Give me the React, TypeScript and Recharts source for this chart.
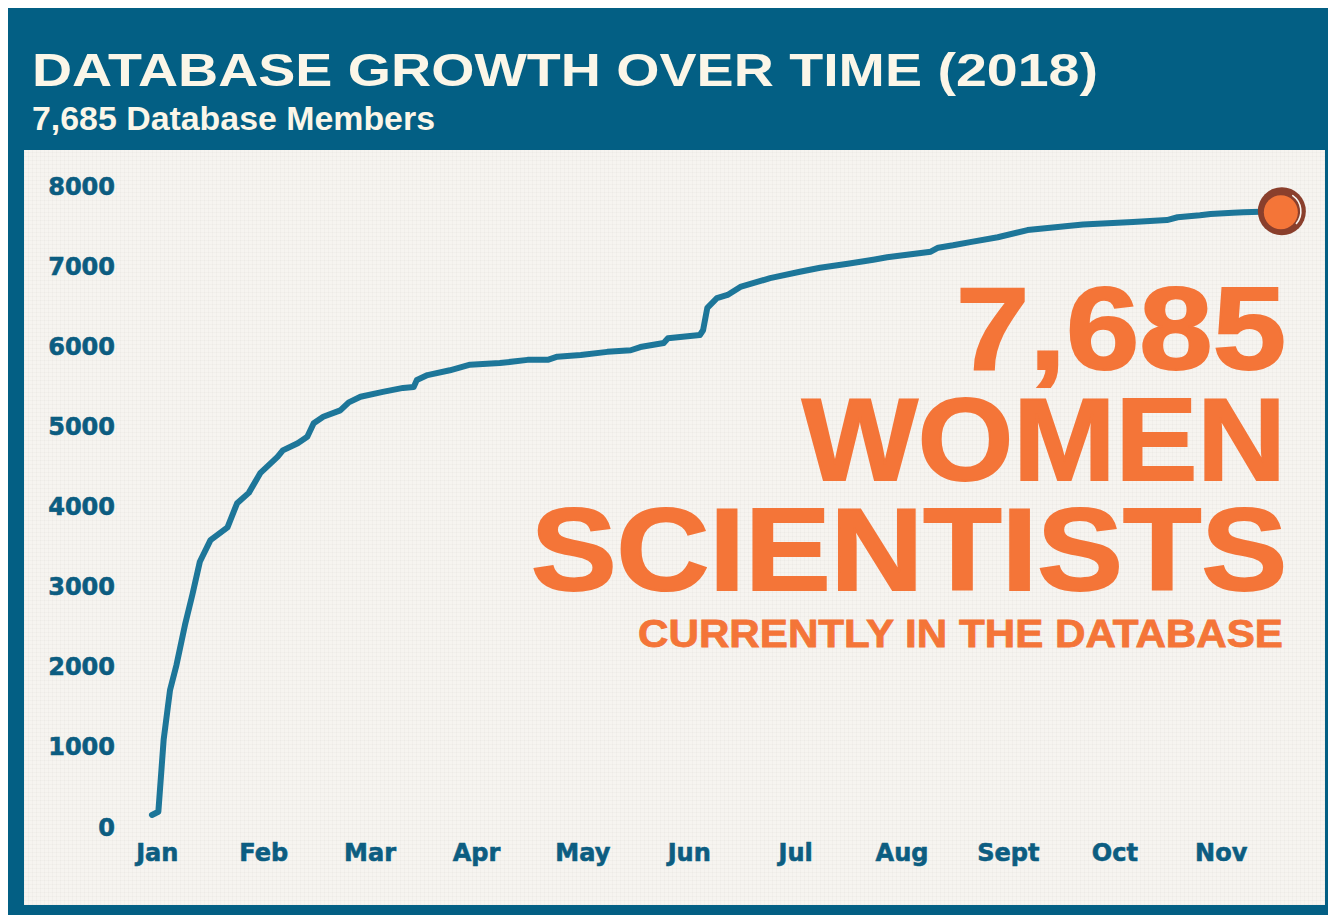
import { LineChart, Line, XAxis, YAxis } from 'recharts';

const FRAME = '#035F84';
const PAPER = '#F6F4F0';
const CREAM = '#FBF6E8';
const AXIS_TEXT = '#0C5D81';
const LINE = '#1D7699';
const ORANGE = '#F47538';
const BROWN = '#8A3F2C';

const MONTHS = ['Jan', 'Feb', 'Mar', 'Apr', 'May', 'Jun', 'Jul', 'Aug', 'Sept', 'Oct', 'Nov'];
const Y_TICKS = [0, 1000, 2000, 3000, 4000, 5000, 6000, 7000, 8000];

// months since 1 January
const monthPos = [
  -0.05, 0.01, 0.06, 0.12, 0.18, 0.26, 0.33, 0.4, 0.5, 0.66, 0.75, 0.86, 0.97, 1.13, 1.18,
  1.32, 1.41, 1.47, 1.56, 1.72, 1.8, 1.91, 2.12, 2.31, 2.41, 2.44, 2.54, 2.75, 2.94, 3.22,
  3.48, 3.67, 3.76, 3.98, 4.23, 4.45, 4.54, 4.76, 4.8, 5.1, 5.13, 5.17, 5.26, 5.36, 5.48,
  5.76, 6.04, 6.23, 6.49, 6.73, 6.86, 7.27, 7.34, 7.48, 7.64, 7.9, 8.18, 8.7, 9.17, 9.49,
  9.59, 9.8, 9.9, 10.11, 10.21, 10.37, 10.57,
];

// cumulative database members
const members = [
  150, 190, 1090, 1710, 2020, 2520, 2900, 3310, 3580, 3740, 4040, 4170, 4420, 4620, 4700,
  4790, 4870, 5040, 5120, 5200, 5300, 5370, 5430, 5480, 5490, 5580, 5640, 5700, 5770, 5790,
  5830, 5830, 5870, 5890, 5930, 5950, 5990, 6040, 6100, 6140, 6200, 6480, 6600, 6640, 6740,
  6850, 6930, 6980, 7030, 7080, 7110, 7180, 7230, 7260, 7300, 7360, 7450, 7520, 7550, 7575,
  7610, 7635, 7650, 7665, 7672, 7680, 7685,
];

const rows = monthPos.map((m, i) => ({ m, members: members[i] }));
const total = members[members.length - 1];
const totalText = total.toLocaleString('en-US');

const axisFont = {
  fill: AXIS_TEXT,
  stroke: AXIS_TEXT,
  strokeWidth: 0.6,
  fontSize: 24,
  fontWeight: 700,
  fontFamily: '"DejaVu Sans", Verdana, sans-serif',
};

// orange marker with a brown brushed ring on the latest point
const EndDot = (props: any) => {
  const { cx, cy, index } = props;
  if (index !== rows.length - 1) return <g key={index} />;
  const r = 19;
  const a0 = (-55 * Math.PI) / 180;
  const a1 = (40 * Math.PI) / 180;
  const arc = `M ${cx + r * Math.cos(a0)} ${cy + r * Math.sin(a0)} A ${r} ${r} 0 0 1 ${cx + r * Math.cos(a1)} ${cy + r * Math.sin(a1)}`;
  return (
    <g key={index}>
      <circle cx={cx} cy={cy} r={24} fill={BROWN} />
      <circle cx={cx - 1} cy={cy + 1} r={17} fill={ORANGE} />
      <path d={arc} stroke={PAPER} strokeWidth={1.6} fill="none" strokeLinecap="round" />
    </g>
  );
};

export default function App() {
  const headline = { fontFamily: '"Liberation Sans", Arial, sans-serif', fontWeight: 700 };
  return (
    <div style={{ position: 'relative', width: 1328, height: 907, background: FRAME }}>
      <svg width={1328} height={142} style={{ position: 'absolute', left: 0, top: 0 }}>
        <text x={24} y={77.5} fontSize={46} fill={CREAM} textLength={1066} lengthAdjust="spacingAndGlyphs" style={headline}>
          DATABASE GROWTH OVER TIME (2018)
        </text>
        <text x={24} y={122} fontSize={34} fill={CREAM} textLength={403} lengthAdjust="spacingAndGlyphs" style={headline}>
          {totalText} Database Members
        </text>
      </svg>

      <div
        style={{
          position: 'absolute',
          left: 16,
          top: 142,
          width: 1301,
          height: 755,
          backgroundColor: PAPER,
          backgroundImage:
            'repeating-linear-gradient(0deg, rgba(120,110,100,0.035) 0 1px, transparent 1px 4px), repeating-linear-gradient(90deg, rgba(120,110,100,0.035) 0 1px, transparent 1px 4px)',
        }}
      >
        <svg width={1301} height={755} style={{ position: 'absolute', left: 0, top: 0 }}>
          <g fill={ORANGE} stroke={ORANGE} textAnchor="end" style={headline}>
            <text x={1262} y={219} fontSize={116} strokeWidth={2} textLength={330} lengthAdjust="spacingAndGlyphs">{totalText}</text>
            <text x={1262} y={330} fontSize={116} strokeWidth={2} textLength={484} lengthAdjust="spacingAndGlyphs">WOMEN</text>
            <text x={1263} y={440} fontSize={116} strokeWidth={2} textLength={756} lengthAdjust="spacingAndGlyphs">SCIENTISTS</text>
            <text x={1259} y={497} fontSize={38} strokeWidth={0.8} textLength={645} lengthAdjust="spacingAndGlyphs">CURRENTLY IN THE DATABASE</text>
          </g>
        </svg>

        <div style={{ position: 'absolute', left: 0, top: 0 }}>
          <LineChart width={1301} height={755} data={rows} margin={{ top: 36, right: 24, bottom: 28, left: 0 }}>
            <XAxis
              dataKey="m"
              type="number"
              domain={[-0.2, 10.75]}
              ticks={MONTHS.map((_, i) => i)}
              tickFormatter={(v: number) => MONTHS[v]}
              interval={0}
              axisLine={false}
              tickLine={false}
              tickSize={0}
              tickMargin={17}
              height={50}
              tick={axisFont}
            />
            <YAxis
              type="number"
              domain={[0, 8000]}
              ticks={Y_TICKS}
              interval={0}
              axisLine={false}
              tickLine={false}
              tickSize={0}
              tickMargin={21}
              width={112}
              tick={axisFont}
            />
            <Line
              type="linear"
              dataKey="members"
              stroke={LINE}
              strokeWidth={6}
              strokeLinejoin="round"
              strokeLinecap="round"
              dot={EndDot}
              activeDot={false}
              isAnimationActive={false}
            />
          </LineChart>
        </div>
      </div>
    </div>
  );
}
